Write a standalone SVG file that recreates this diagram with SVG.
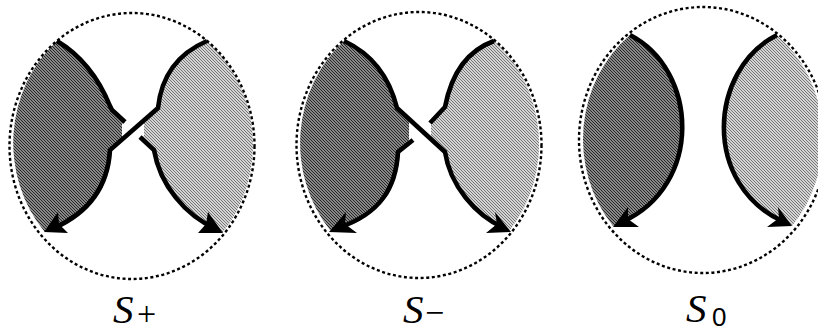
<svg xmlns="http://www.w3.org/2000/svg" width="818" height="331" viewBox="0 0 818 331">
<defs>
<pattern id="hatchDark" patternUnits="userSpaceOnUse" width="3" height="3">
<rect width="3" height="3" fill="#888888"/>
<rect x="0" y="0" width="1" height="1" fill="#262626"/>
<rect x="1" y="1" width="1" height="1" fill="#262626"/>
<rect x="2" y="2" width="1" height="1" fill="#262626"/>
</pattern>
<pattern id="hatchLight" patternUnits="userSpaceOnUse" width="3" height="3">
<rect width="3" height="3" fill="#d4d4d4"/>
<rect x="0" y="0" width="1" height="1" fill="#767676"/>
<rect x="1" y="1" width="1" height="1" fill="#767676"/>
<rect x="2" y="2" width="1" height="1" fill="#767676"/>
</pattern>
</defs>
<style>
.dark{fill:url(#hatchDark);stroke:none}
.light{fill:url(#hatchLight);stroke:none}
.ring{fill:none;stroke:#000;stroke-width:2.4;stroke-dasharray:3 2.6}
.strand{fill:none;stroke:#000;stroke-width:4.6;stroke-linejoin:miter;stroke-linecap:butt}
.head{fill:#000;stroke:none}
.lab{font-family:"Liberation Serif","Times New Roman",serif;font-size:41px;font-style:italic;fill:#000}
.sub{font-family:"Liberation Serif","Times New Roman",serif;font-size:34px;fill:#000}
.subd{font-family:"Liberation Sans",Arial,sans-serif;font-size:26px;fill:#000}
</style>

<g id="splus">
<path class="dark" d="M57,41 A122.5,133 0 0 0 44,231 L48,231 C90,212 108,185 110,150 L122,140 L122,124 L125,122 L112,110 L110,106 Q92,62 57,41 Z"/>
<path class="light" d="M207,41 A122.5,133 0 0 1 223,232 L222,232 C185,215 160,185 154,150 L140,137 L144,136 L144,122 L158,110 L158,108 Q163,60 207,41 Z"/>
<ellipse class="ring" cx="132" cy="146" rx="122.5" ry="133"/>
<path class="strand" d="M207,41 Q163,60 158,108 L110,150 C108,185 90,212 54,228"/>
<path class="strand" d="M57,41 Q92,62 110,106 L112,110 L125,122"/>
<path class="strand" d="M140,137 L154,150 C160,185 185,215 216,229"/>
<polygon class="head" points="44,232 58,212 59,224 68,233"/>
<polygon class="head" points="223,233 208,212 206,224 198,233"/>
<text class="lab" x="113" y="323">S</text>
<text class="sub" x="137" y="325">+</text>
</g>

<g id="sminus">
<path class="dark" d="M344,41 A122.5,133 0 0 0 330,230 L333,230 C380,214 396,188 398,152 L409,143 L409,119 L397,108 Q385,60 344,41 Z"/>
<path class="light" d="M494,41 A122.5,133 0 0 1 510,230 L507,230 C475,215 450,185 445,152 L431,139 L431,123 L445,107 Q455,55 494,41 Z"/>
<ellipse class="ring" cx="419" cy="145" rx="122.5" ry="133"/>
<path class="strand" d="M344,41 Q385,60 397,108 L445,152 C450,185 475,215 504,228"/>
<path class="strand" d="M494,41 Q455,55 445,107 L430,123"/>
<path class="strand" d="M413,140 L398,152 C396,188 380,214 338,228"/>
<polygon class="head" points="329,232 346,212 345,224 357,233"/>
<polygon class="head" points="511,232 495,212 497,224 486,233"/>
<text class="lab" x="403" y="323">S</text>
<text class="sub" x="425" y="324">−</text>
</g>

<g id="szero">
<path class="dark" d="M630,35 A124,133 0 0 0 613,226 L618,225 C704,185 698,70 630,35 Z"/>
<path class="light" d="M777,35 A124,133 0 0 1 792,226 L788,224 C702,185 708,70 777,35 Z"/>
<ellipse class="ring" cx="703" cy="140" rx="124" ry="133"/>
<path class="strand" d="M630,35 C698,70 704,185 622,222"/>
<path class="strand" d="M777,35 C708,70 702,185 784,222"/>
<polygon class="head" points="613,227 628,207 628,219 639,227"/>
<polygon class="head" points="792,226 778,207 779,218 767,227"/>
<text class="lab" x="686" y="322">S</text>
<text class="subd" x="712" y="326">0</text>
</g>
</svg>
